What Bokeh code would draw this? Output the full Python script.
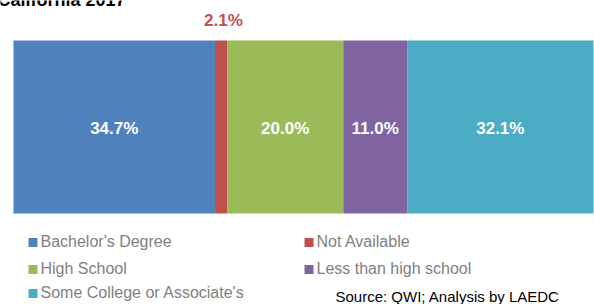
from bokeh.plotting import figure
from bokeh.models import Range1d, ColumnDataSource
from bokeh.core.properties import value
from bokeh.embed import file_html
from bokeh.resources import INLINE

categories = ["Bachelor's Degree", "Not Available", "High School", "Less than high school", "Some College or Associate's"]
shares = [34.7, 2.1, 20.0, 11.0, 32.1]
colors = ["#4F81BD", "#C0504D", "#9BBB59", "#8064A2", "#4BACC6"]
title_text = "California 2017"
source_text = "Source: QWI; Analysis by LAEDC"

W, H = 594, 304
PX_PER_PCT = 5.806
X0 = 13

lefts, rights = [], []
acc = 0.0
for s in shares:
    lefts.append(acc)
    acc += s
    rights.append(acc)
centers = [(l + r) / 2 for l, r in zip(lefts, rights)]
labels = ["%.1f%%" % s for s in shares]

p = figure(width=W, height=H, output_backend="svg", toolbar_location=None,
           x_range=Range1d(-X0 / PX_PER_PCT, (W - X0) / PX_PER_PCT),
           y_range=Range1d(H, 0), min_border=0)
p.extra_x_ranges = {"px": Range1d(0, W)}
p.axis.visible = False
p.grid.visible = False
p.outline_line_color = None
p.background_fill_color = "white"
p.border_fill_color = "white"

src = ColumnDataSource(dict(left=lefts, right=rights, color=colors, cx=centers, label=labels, share=shares))
p.hbar(y=126.5, height=173, left="left", right="right", color="color", source=src, line_color=None)

FONT = "Liberation Sans"
big = [i for i, s in enumerate(shares) if s >= 5]
small = [i for i, s in enumerate(shares) if s < 5]
p.text(x=[centers[i] for i in big], y=128, text=[labels[i] for i in big],
       text_color="white", text_font=value(FONT), text_font_style="bold",
       text_font_size="17px", text_align="center", text_baseline="middle")
p.text(x=[centers[i] + 0.4 for i in small], y=20, text=[labels[i] for i in small],
       text_color=[colors[i] for i in small], text_font=value(FONT), text_font_style="bold",
       text_font_size="17px", text_align="center", text_baseline="middle")

# title fragment (clipped at top edge as in the reference)
p.text(x=[125], y=[-1], text=[title_text], x_range_name="px", text_color="black",
       text_font=value(FONT), text_font_style="bold", text_font_size="18px",
       text_align="right", text_baseline="alphabetic")

# legend: two columns
leg_x = [28, 28, 28, 304, 304]
leg_y = [241, 268, 292, 241, 268]
order = [0, 2, 4, 1, 3]
lc = [colors[i] for i in order]
lt = [categories[i] for i in order]
p.rect(x=[v + 4.5 for v in leg_x], y=[v + 1 for v in leg_y], width=9, height=9, x_range_name="px", color=lc, line_color=None)
p.text(x=[v + 12 for v in leg_x], y=leg_y, text=lt, x_range_name="px", text_color="#7F7F7F",
       text_font=value(FONT), text_font_size="16px", text_baseline="middle")

p.text(x=[335], y=[296], text=[source_text], x_range_name="px", text_color="black",
       text_font=value(FONT), text_font_size="15px", text_baseline="middle")

open("out.html", "w").write(file_html(p, INLINE))
